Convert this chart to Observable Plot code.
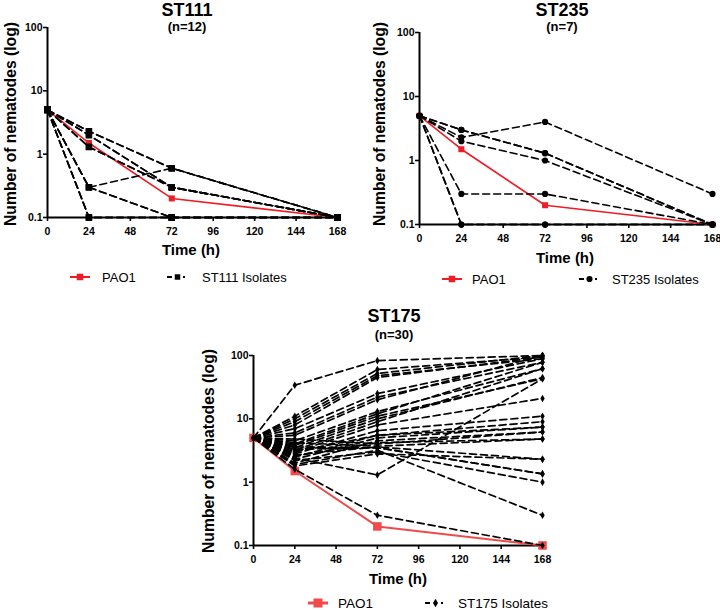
<!DOCTYPE html>
<html>
<head>
<meta charset="utf-8">
<script src="https://cdn.jsdelivr.net/npm/d3@7"></script>
<script src="https://cdn.jsdelivr.net/npm/@observablehq/plot@0.6"></script>
<style>
  html, body { margin: 0; padding: 0; background: #fff; }
  #wrap { position: relative; width: 720px; height: 610px; overflow: hidden; background: #fff; font-family: "Liberation Sans", Arial, sans-serif; }
  #wrap > svg, #wrap > figure { position: absolute; margin: 0; }
</style>
</head>
<body>
<div id="wrap"></div>
<script>
// ---------- data ----------
const times = [0, 24, 72, 168];
const xTicks = [0, 24, 48, 72, 96, 120, 144, 168];
const yTicks = [0.1, 1, 10, 100];

const pao1 = [5, 1.5, 0.2, 0.1];

const st111Isolates = [
  [5, 2.3, 0.6, 0.1],
  [5, 2.0, 0.3, 0.1],
  [5, 1.3, 0.3, 0.1],
  [5, 0.3, 0.6, 0.1],
  [5, 0.3, 0.1, 0.1],
  [5, 0.1, 0.1, 0.1],
  [5, 2.3, 0.6, 0.1],
  [5, 2.0, 0.3, 0.1],
  [5, 1.3, 0.3, 0.1],
  [5, 0.3, 0.1, 0.1],
  [5, 0.1, 0.1, 0.1],
  [5, 0.1, 0.1, 0.1]
];

const st235Isolates = [
  [5, 2.3, 4.0, 0.3],
  [5, 3.0, 1.3, 0.1],
  [5, 2.0, 1.0, 0.1],
  [5, 0.3, 0.3, 0.1],
  [5, 0.1, 0.1, 0.1],
  [5, 3.0, 1.3, 0.1],
  [5, 0.1, 0.1, 0.1]
];

const st175Isolates = [
  [5, 34, 83, 100],
  [5, 11, 60, 95],
  [5, 10, 52, 100],
  [5, 9, 48, 89],
  [5, 8, 45, 95],
  [5, 7, 25, 89],
  [5, 6, 22, 78],
  [5, 5.5, 20, 100],
  [5, 4.5, 13, 62],
  [5, 4, 12, 78],
  [5, 3.8, 11, 43],
  [5, 3.5, 10, 45],
  [5, 3.2, 9, 62],
  [5, 3, 8, 21],
  [5, 2.8, 6.5, 11],
  [5, 2.5, 5.5, 9],
  [5, 2.3, 5, 7.4],
  [5, 2, 4.5, 6.2],
  [5, 4.8, 4, 6.2],
  [5, 4.2, 3.7, 4.8],
  [5, 3.6, 3.5, 1.35],
  [5, 3.3, 3.5, 1.35],
  [5, 2.7, 3.6, 2.3],
  [5, 2.2, 3, 1.0],
  [5, 1.9, 3.2, 0.3],
  [5, 2.4, 1.3, 43],
  [5, 1.6, 0.3, 0.1],
  [5, 1.8, 2.8, 2.3],
  [5, 3.0, 5.5, 7.4],
  [5, 2.6, 4.2, 4.8]
];

const panelTitles = ["ST111", "ST235", "ST175"];
const panelCounts = ["(n=12)", "(n=7)", "(n=30)"];
const xLabel = "Time (h)";
const yLabel = "Number of nematodes (log)";
const refLabel = "PAO1";
const isolateLabels = ["ST111 Isolates", "ST235 Isolates", "ST175 Isolates"];

// ---------- drawing ----------
const wrap = document.getElementById("wrap");
const FONT = "'Liberation Sans', Arial, sans-serif";

function toRows(isolates) {
  return isolates.flatMap((vals, i) => times.map((t, j) => ({id: i, t, v: vals[j]})));
}
const pao1Rows = times.map((t, j) => ({t, v: pao1[j]}));

function panel(cfg) {
  const rows = toRows(cfg.isolates);
  const p = Plot.plot({
    width: cfg.width,
    height: cfg.height,
    marginLeft: cfg.ml, marginRight: cfg.mr, marginTop: cfg.mt, marginBottom: cfg.mb,
    style: {fontFamily: FONT, fontSize: "10px", fontWeight: "bold", background: "transparent", color: "black", overflow: "visible"},
    x: {domain: [0, 168]},
    y: {type: "log", domain: [0.1, 100]},
    marks: [
      Plot.axisX({ticks: xTicks, tickSize: 4, tickPadding: 6, strokeWidth: 1.6, label: null, fontWeight: "bold", fontSize: 10.5}),
      Plot.axisY({ticks: yTicks, tickSize: 4, tickPadding: 1, strokeWidth: 1.6, label: null, tickFormat: d3.format("~g"), fontWeight: "bold", fontSize: 10.5}),
      Plot.ruleY([0.1], {stroke: "black", strokeWidth: 2}),
      Plot.ruleX([0], {stroke: "black", strokeWidth: 2}),
      Plot.line(pao1Rows, {x: "t", y: "v", stroke: cfg.red, strokeWidth: cfg.redWidth}),
      Plot.dot(pao1Rows, {x: "t", y: "v", symbol: "square", r: cfg.redR, fill: cfg.red, stroke: "none"}),
      Plot.line(rows, {x: "t", y: "v", z: "id", stroke: "black", strokeWidth: cfg.bw, strokeDasharray: "7,4"}),
      Plot.dot(rows, {x: "t", y: "v", symbol: cfg.symbol, r: cfg.r, fill: "black", stroke: "none"})
    ]
  });
  p.style.left = cfg.left + "px";
  p.style.top = cfg.top + "px";
  wrap.appendChild(p);
}

panel({isolates: st111Isolates, symbol: "square", r: 3.6, red: "#ee1c24", redWidth: 1.6, redR: 3.4, bw: 1.6,
  left: 0, top: 0, width: 360, height: 245, ml: 47, mr: 23, mt: 27, mb: 28});
panel({isolates: st235Isolates, symbol: "circle", r: 3.1, red: "#ee1c24", redWidth: 1.6, redR: 3.4, bw: 1.6,
  left: 360, top: 0, width: 360, height: 250, ml: 59, mr: 8, mt: 32, mb: 26});
panel({isolates: st175Isolates, symbol: "diamond", r: 2.3, red: "#f04a4a", redWidth: 2, redR: 4.8, bw: 1.7,
  left: 190, top: 320, width: 360, height: 250, ml: 63, mr: 8, mt: 35, mb: 25});

// ---------- overlay text & legends ----------
const ov = d3.select(wrap).append("svg")
  .attr("width", 720).attr("height", 610)
  .style("left", "0px").style("top", "0px")
  .style("pointer-events", "none")
  .attr("font-family", FONT);

function txt(x, y, s, size, weight, anchor, rot) {
  const t = ov.append("text").attr("x", x).attr("y", y).text(s)
    .attr("font-size", size).attr("font-weight", weight || "normal")
    .attr("text-anchor", anchor || "middle").attr("fill", "black");
  if (rot) t.attr("transform", `rotate(${rot},${x},${y})`);
  return t;
}

const layout = [
  {tx: 187, ty: 16, ny: 30.5, ylx: 15.5, yly: 124, xlx: 191, xly: 255, legY: 277, redX: 70, refX: 102, blkX: 167, isoX: 202, fs: 13, big: false},
  {tx: 562, ty: 16, ny: 31, ylx: 385, yly: 124, xlx: 565, xly: 263, legY: 279, redX: 442, refX: 472, blkX: 579, isoX: 612, fs: 13, big: false},
  {tx: 394, ty: 322, ny: 339, ylx: 214, yly: 451, xlx: 398, xly: 584, legY: 603, redX: 308, refX: 338, blkX: 425, isoX: 458, fs: 13.5, big: true}
];
const reds = ["#ee1c24", "#ee1c24", "#f04a4a"];
const syms = ["square", "circle", "diamond"];

layout.forEach((L, i) => {
  txt(L.tx, L.ty, panelTitles[i], 18, "bold");
  txt(L.tx, L.ny, panelCounts[i], 13, "bold");
  txt(L.ylx, L.yly, yLabel, 15.7, "bold", "middle", -90);
  txt(L.xlx, L.xly, xLabel, 15, "bold");
  // red legend symbol
  ov.append("line").attr("x1", L.redX).attr("x2", L.redX + 20).attr("y1", L.legY).attr("y2", L.legY)
    .attr("stroke", reds[i]).attr("stroke-width", L.big ? 3 : 2);
  const s = L.big ? 9 : 6.5;
  ov.append("rect").attr("x", L.redX + 10 - s / 2).attr("y", L.legY - s / 2).attr("width", s).attr("height", s).attr("fill", reds[i]);
  txt(L.refX, L.legY + L.fs * 0.36, refLabel, L.fs, "normal", "start");
  // black legend symbol: dash, marker, dot
  ov.append("line").attr("x1", L.blkX).attr("x2", L.blkX + 5).attr("y1", L.legY).attr("y2", L.legY)
    .attr("stroke", "black").attr("stroke-width", 2);
  ov.append("line").attr("x1", L.blkX + 16).attr("x2", L.blkX + 18).attr("y1", L.legY).attr("y2", L.legY)
    .attr("stroke", "black").attr("stroke-width", 2);
  ov.append("path")
    .attr("d", d3.symbol(syms[i] === "square" ? d3.symbolSquare : syms[i] === "circle" ? d3.symbolCircle : d3.symbolDiamond, syms[i] === "diamond" ? 22 : 30)())
    .attr("transform", `translate(${L.blkX + 10.5},${L.legY})`).attr("fill", "black");
  txt(L.isoX, L.legY + L.fs * 0.36, isolateLabels[i], L.fs, "normal", "start");
});
</script>
</body>
</html>
